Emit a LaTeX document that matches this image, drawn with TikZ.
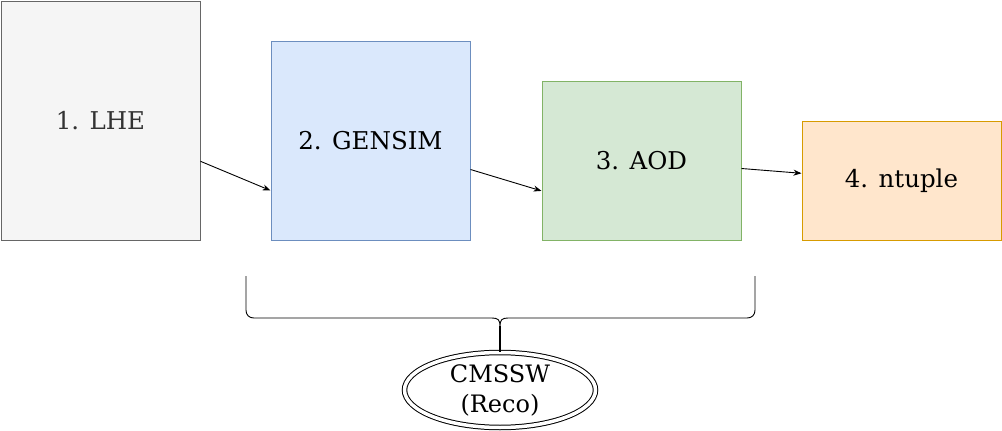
\documentclass[tikz,border=0pt]{standalone}
\usepackage{fontspec}
\setmainfont{DejaVu Serif}
\usetikzlibrary{shapes.geometric,arrows.meta,calc}
\definecolor{lhefill}{HTML}{F5F5F5}
\definecolor{lhedraw}{HTML}{666666}
\definecolor{lhetext}{HTML}{333333}
\definecolor{genfill}{HTML}{DAE8FC}
\definecolor{gendraw}{HTML}{6C8EBF}
\definecolor{aodfill}{HTML}{D5E8D4}
\definecolor{aoddraw}{HTML}{82B366}
\definecolor{ntfill}{HTML}{FFE6CC}
\definecolor{ntdraw}{HTML}{D79B00}
\tikzset{
  stepbox/.style={rectangle, line width=1pt, minimum width=199pt, inner sep=0pt, font=\fontsize{24.5}{28}\selectfont, anchor=north west},
  conn/.style={line width=0.9pt, -{Stealth[length=8pt,width=6pt]}},
}
\begin{document}
\begin{tikzpicture}[x=1pt,y=-1pt]
\useasboundingbox (0,0) rectangle (1002,431);
\node[stepbox, fill=lhefill, draw=lhedraw, text=lhetext, minimum height=239pt] (lhe) at (0.5,0.5) {1. LHE};
\node[stepbox, fill=genfill, draw=gendraw, minimum height=199pt] (gen) at (270.5,40.5) {2. GENSIM};
\node[stepbox, fill=aodfill, draw=aoddraw, minimum height=159pt] (aod) at (541.5,80.5) {3. AOD};
\node[stepbox, fill=ntfill, draw=ntdraw, minimum height=119pt] (nt) at (801.5,120.5) {4. ntuple};
\coordinate (a1) at ($(lhe.north east)!0.67!(lhe.south east)$);
\coordinate (b1) at ($(gen.north west)!0.75!(gen.south west)$);
\draw[conn] (a1) -- (b1);
\coordinate (a2) at ($(gen.north east)!0.645!(gen.south east)$);
\coordinate (b2) at ($(aod.north west)!0.69!(aod.south west)$);
\draw[conn] (a2) -- (b2);
\coordinate (a3) at ($(aod.north east)!0.55!(aod.south east)$);
\coordinate (b3) at ($(nt.north west)!0.44!(nt.south west)$);
\draw[conn] (a3) -- (b3);
\node[ellipse, draw, line width=1pt, double, double distance=3.5pt, minimum width=191pt, minimum height=75pt, inner sep=0pt, align=center, font=\fontsize{24}{30}\selectfont] (cms) at (500,390) {CMSSW\\(Reco)};
\coordinate (bl) at (246,276);
\coordinate (br) at (755,276);
\coordinate (tip) at (500,326);
\draw[line width=0.9pt] (bl) -- (246,310) .. controls (246,315) and (249,318) .. (254,318) -- (492,318) .. controls (498,318) and (500,320) .. (tip) .. controls (500,320) and (502,318) .. (508,318) -- (747,318) .. controls (752,318) and (755,315) .. (755,310) -- (br);
\draw[line width=1.3pt] (tip) -- (cms.north);
\end{tikzpicture}
\end{document}
